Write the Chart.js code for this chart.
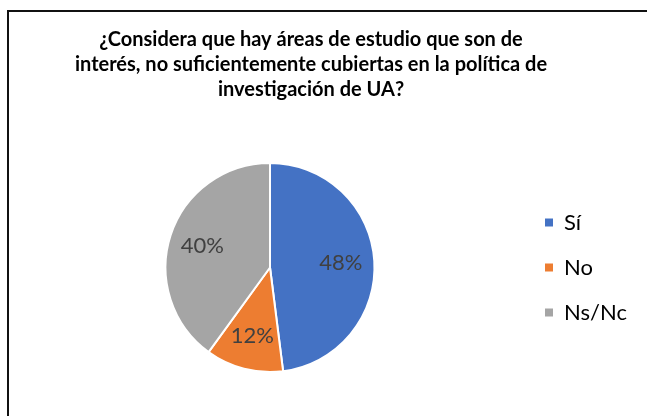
<!DOCTYPE html>
<html>
<head>
<meta charset="utf-8">
<script src="https://cdn.jsdelivr.net/npm/chart.js@4"></script>
<style>
  html, body { margin: 0; padding: 0; background: #fff; }
  #marco { position: absolute; left: 7px; top: 10px; width: 700px; height: 500px; border-top: 2px solid #111; border-left: 2px solid #111; }
  #caja { position: absolute; left: 0; top: 0; width: 647px; height: 416px; }
</style>
</head>
<body>
<div id="marco"></div>
<div id="caja"><canvas id="chartAreas"></canvas></div>
<script>
// Datos de la encuesta
const categorias = ['Sí', 'No', 'Ns/Nc'];
const porcentajes = [48, 12, 40];
const tituloLineas = [
    '¿Considera que hay áreas de estudio que son de',
    'interés, no suficientemente cubiertas en la política de',
    'investigación de UA?'
];

const colores = ['#4472C4', '#ED7D31', '#A5A5A5'];
const fuente = 'Lato, "Open Sans", sans-serif';

Chart.defaults.maintainAspectRatio = false;
Chart.defaults.responsive = true;
Chart.defaults.font.family = fuente;

// titulo dibujado a mano para poder centrarlo donde esta en el original
const pluginTitulo = {
    id: 'titulo',
    afterDraw(chart) {
        const ctx = chart.ctx;
        ctx.save();
        ctx.font = 'bold 20px ' + fuente;
        ctx.fillStyle = '#000';
        ctx.textAlign = 'center';
        ctx.textBaseline = 'middle';
        tituloLineas.forEach((linea, i) => {
            ctx.fillText(linea, 311, 40 + i * 25);
        });
        ctx.restore();
    }
};

// ancho fijo para la leyenda de la derecha
const pluginAnchoLeyenda = {
    id: 'anchoLeyenda',
    beforeInit(chart) {
        const fitOrig = chart.legend.fit;
        chart.legend.fit = function () {
            fitOrig.call(this);
            this.width = 125;
        };
    }
};

// etiquetas de porcentaje dentro de cada porcion
const pluginEtiquetas = {
    id: 'etiquetas',
    afterDatasetsDraw(chart) {
        const ctx = chart.ctx;
        const meta = chart.getDatasetMeta(0);
        ctx.save();
        ctx.font = '22px ' + fuente;
        ctx.fillStyle = '#404040';
        ctx.textAlign = 'center';
        ctx.textBaseline = 'middle';
        meta.data.forEach((arco, i) => {
            const p = arco.getProps(['x', 'y', 'startAngle', 'endAngle', 'outerRadius'], true);
            const medio = (p.startAngle + p.endAngle) / 2;
            const r = p.outerRadius * 0.68;
            ctx.fillText(porcentajes[i] + '%', p.x + Math.cos(medio) * r, p.y + Math.sin(medio) * r);
        });
        ctx.restore();
    }
};

new Chart(document.getElementById('chartAreas'), {
    type: 'pie',
    data: {
        labels: categorias,
        datasets: [{
            data: porcentajes,
            backgroundColor: colores,
            borderColor: '#ffffff',
            borderWidth: 2
        }]
    },
    options: {
        animation: false,
        layout: {
            padding: { top: 162, bottom: 43, left: 18, right: 0 }
        },
        plugins: {
            legend: {
                position: 'right',
                labels: {
                    boxWidth: 8,
                    boxHeight: 8,
                    padding: 23,
                    color: '#595959',
                    font: { size: 22 },
                    generateLabels(chart) {
                        return categorias.map((c, i) => ({
                            text: c,
                            fillStyle: colores[i],
                            strokeStyle: colores[i],
                            lineWidth: 0,
                            index: i,
                            hidden: false
                        }));
                    }
                }
            },
            title: { display: false },
            tooltip: { enabled: false }
        }
    },
    plugins: [pluginAnchoLeyenda, pluginTitulo, pluginEtiquetas]
});
</script>
</body>
</html>
